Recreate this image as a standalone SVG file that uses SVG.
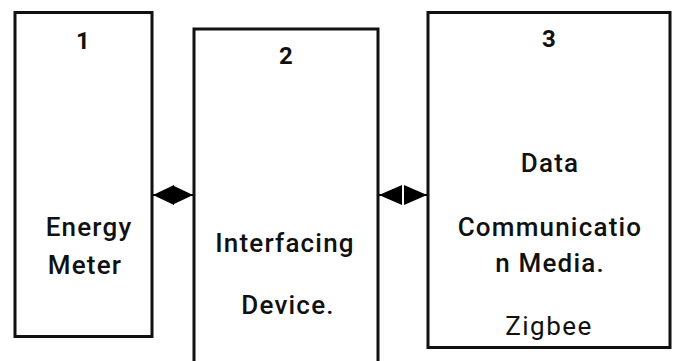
<svg xmlns="http://www.w3.org/2000/svg" width="675" height="361" viewBox="0 0 675 361">
<style>
.box{fill:#fff;stroke:#111;stroke-width:3}
.t{font-family:Roboto,"Liberation Sans",sans-serif;font-weight:500;font-size:26px;letter-spacing:1.2px;fill:#111;text-anchor:middle}
.n{font-weight:700;font-size:24px;letter-spacing:0}
.z{font-weight:400;font-size:26px;letter-spacing:1.5px}
.c{stroke:#000;stroke-width:2;fill:none}
</style>
<defs>
<marker id="ah" markerUnits="userSpaceOnUse" markerWidth="23" markerHeight="20" refX="23" refY="10" orient="auto-start-reverse" viewBox="0 0 23 20">
<path d="M0,0 L23,10 L0,20 Z" fill="#000"/>
</marker>
<marker id="dh" markerUnits="userSpaceOnUse" markerWidth="20.5" markerHeight="20" refX="20.5" refY="10" orient="auto-start-reverse" viewBox="0 0 20.5 20">
<path d="M-0.5,0 L20.5,10 L-0.5,20 Z" fill="#000"/>
</marker>
</defs>
<rect width="675" height="361" fill="#fff"/>
<g id="node1">
<rect class="box" x="15" y="12.5" width="137" height="324"/>
<text class="t n" x="83" y="49">1</text>
<text class="t" x="89" y="236">Energy</text>
<text class="t" x="85" y="274">Meter</text>
</g>
<g id="node2">
<rect class="box" x="194" y="29" width="184" height="345"/>
<text class="t n" x="286" y="64">2</text>
<text class="t" x="285" y="252">Interfacing</text>
<text class="t" x="288" y="314">Device.</text>
</g>
<g id="node3">
<rect class="box" x="428" y="12.5" width="242" height="335"/>
<text class="t n" x="549" y="47">3</text>
<text class="t" x="550" y="172">Data</text>
<text class="t" x="550" y="236">Communicatio</text>
<text class="t" x="550" y="272">n Media.</text>
<text class="t z" x="549" y="335">Zigbee</text>
</g>
<g id="connectors">
<line class="c" x1="153" y1="195" x2="193" y2="195" marker-start="url(#dh)" marker-end="url(#dh)"/>
<line class="c" x1="401" y1="195" x2="379" y2="195" marker-end="url(#ah)"/>
<line class="c" x1="404" y1="195" x2="427" y2="195" marker-end="url(#ah)"/>
</g>
</svg>
